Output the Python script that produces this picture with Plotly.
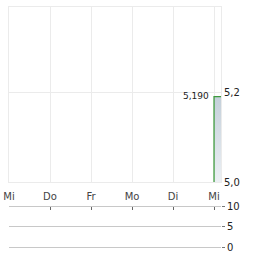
import plotly.graph_objects as go

# Data
day_labels = ["Mi", "Do", "Fr", "Mo", "Di", "Mi"]
day_positions = [0, 1, 2, 3, 4, 5]
price_times = [5.0, 5.0, 5.17]
price_values = [5.0, 5.19, 5.19]
base_values = [5.0, 5.0, 5.0]
last_price = 5.19
last_label = "5,190"
price_ticks = [5.0, 5.2]
price_tick_text = ["5,0", "5,2"]
volume_ticks = [0, 5, 10]
volume_tick_text = ["0", "5", "10"]

grid = "#ebebeb"
font = "DejaVu Sans"

fig = go.Figure()
fig.add_trace(go.Scatter(x=price_times, y=base_values, mode="lines",
                         line=dict(width=0), hoverinfo="skip", showlegend=False))
fig.add_trace(go.Scatter(x=price_times, y=price_values, mode="lines",
                         line=dict(color="#3f9a3f", width=1.3),
                         fill="tonexty",
                         fillgradient=dict(type="vertical",
                                           colorscale=[[0, "rgb(236,240,244)"], [1, "rgb(196,208,218)"]]),
                         showlegend=False))

fig.add_annotation(x=price_times[1], y=last_price, text=last_label, showarrow=False,
                   xanchor="right", yanchor="middle", xshift=-3, yshift=1,
                   font=dict(family=font, size=9, color="#222"))

fig.update_layout(
    width=264, height=255,
    margin=dict(l=9, r=43, t=7, b=8, autoexpand=False),
    plot_bgcolor="white", paper_bgcolor="white",
    separators=",.",
    xaxis=dict(range=[0, 5.17], tickvals=day_positions, ticktext=day_labels,
               showgrid=True, gridcolor=grid, gridwidth=1, zeroline=False,
               showline=True, linecolor=grid, mirror=True, automargin=False,
               ticks="outside", ticklen=5, tickcolor="rgba(0,0,0,0)",
               tickfont=dict(family=font, size=10, color="#444"),
               anchor="y", domain=[0, 1]),
    yaxis=dict(range=[5.0, 5.389], domain=[0.2708, 1], side="right",
               tickvals=price_ticks, ticktext=price_tick_text, automargin=False,
               showgrid=True, gridcolor=grid, zeroline=False,
               showline=True, linecolor=grid, mirror=True,
               ticks="", tickfont=dict(family=font, size=10, color="#222")),
    xaxis2=dict(range=[0, 5.17], tickvals=day_positions, anchor="y2", side="top",
                showticklabels=False, showgrid=False, zeroline=False, automargin=False,
                showline=True, linecolor="#c8c8c8", mirror=True,
                ticks="inside", ticklen=3, tickcolor="#666",
                domain=[0, 1]),
    yaxis2=dict(range=[0, 10], domain=[0, 0.1667], side="right",
                tickvals=volume_ticks, ticktext=volume_tick_text, automargin=False,
                showgrid=True, gridcolor="#c8c8c8", zeroline=False,
                ticks="outside", ticklen=3, tickcolor="#777",
                tickfont=dict(family=font, size=10, color="#222"), anchor="x2"),
)
fig.add_trace(go.Scatter(x=[None], y=[None], xaxis="x2", yaxis="y2", showlegend=False))

fig.write_html("out.html")
